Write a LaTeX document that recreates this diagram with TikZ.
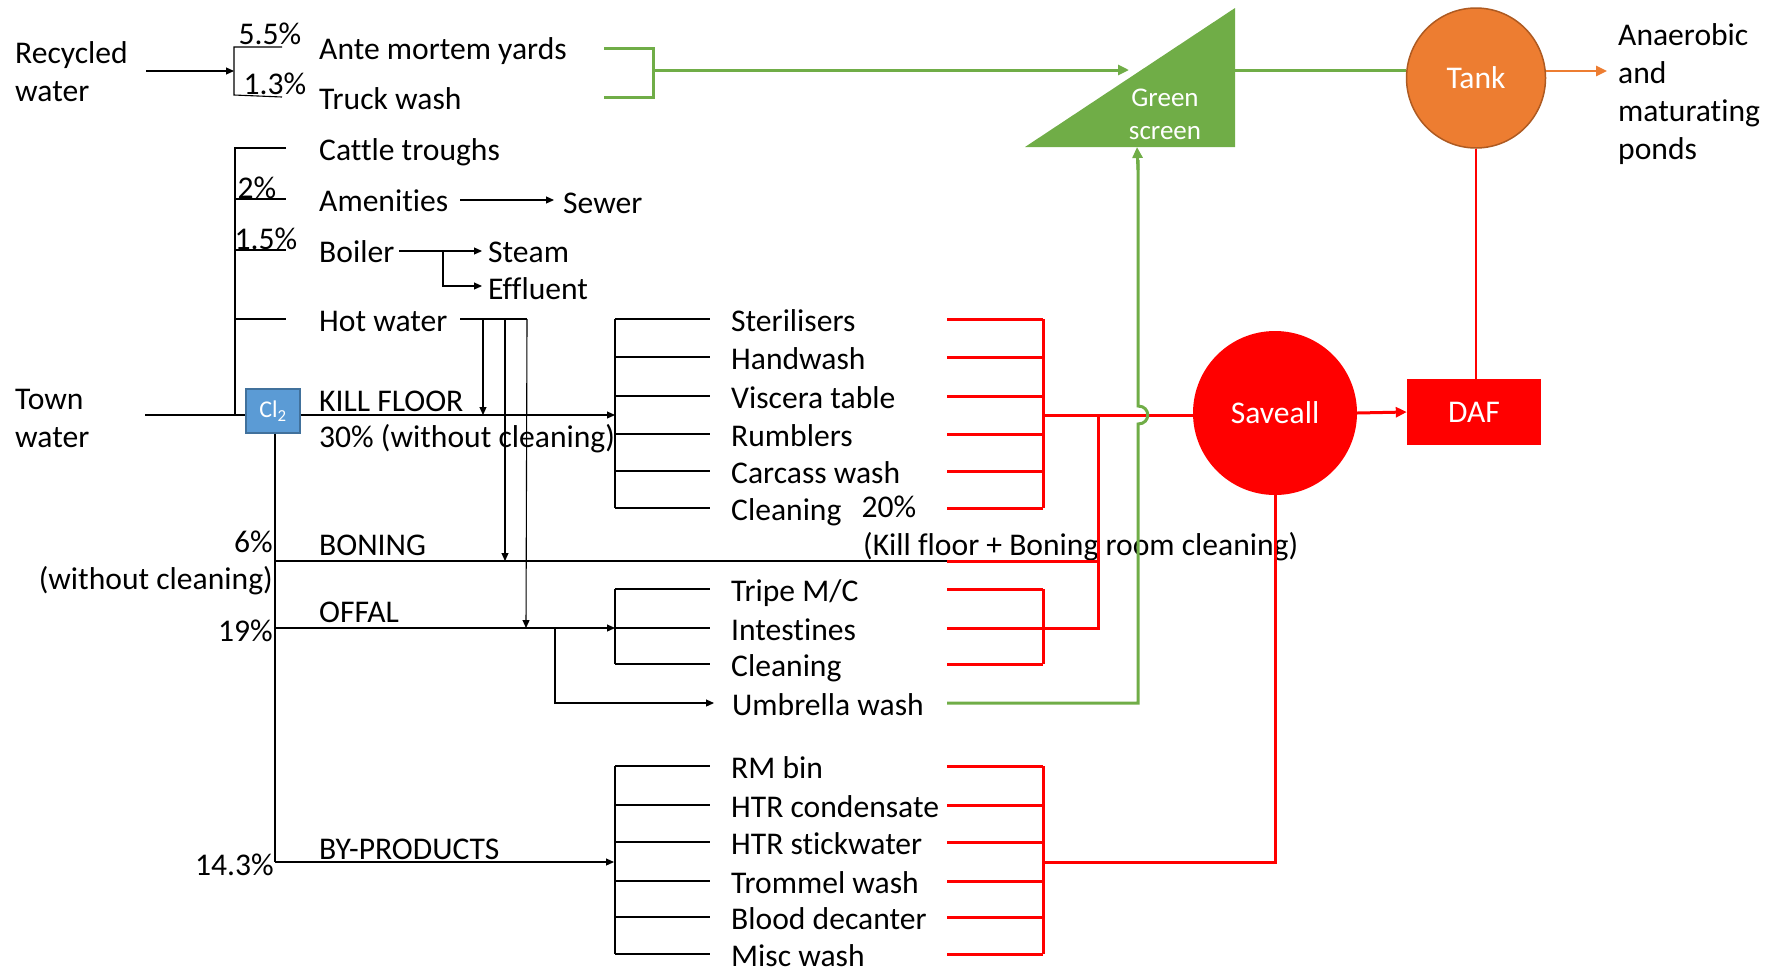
\documentclass[tikz,border=0pt]{standalone}
\usepackage{fontspec}
\setmainfont[Ligatures=NoCommon]{Carlito}
\usetikzlibrary{arrows.meta,shapes.geometric}
\definecolor{gr}{HTML}{70AD47}
\definecolor{grd}{HTML}{507E32}
\definecolor{org}{HTML}{ED7D31}
\definecolor{orgd}{HTML}{AE5A21}
\definecolor{bl}{HTML}{5B9BD5}
\definecolor{bld}{HTML}{41719C}
\definecolor{rd}{HTML}{FF0000}
\newcommand\myfs{\fontsize{31.6}{38}\selectfont}
\begin{document}
\begin{tikzpicture}[x=1pt,y=-1pt,
  lbl/.style={anchor=west,inner sep=0pt,font=\myfs,text height=27pt,text depth=3pt},
  lblr/.style={lbl,anchor=east},
  lblc/.style={lbl,anchor=center},
  multi/.style={anchor=west,inner sep=0pt,font=\myfs,align=left},
  blk/.style={draw=black,line width=1.1pt},
  tip/.style={-{Triangle[length=8pt,width=7pt]}},
  bigtip/.style={-{Triangle[length=11pt,width=10pt]}},
  redl/.style={draw=rd,line width=3pt},
  grl/.style={draw=gr,line width=3pt},
  wtxt/.style={text=white,font=\myfs,inner sep=0pt},
]
\useasboundingbox (0,0) rectangle (1771,970);

% ---------- texts ----------
\node[multi] (rec) at (15,72) {Recycled\\water};
\node[multi] (town) at (15,418) {Town\\water};
\node[lblc] (p55) at (270,32) {5.5\%};
\node[lblc] (p13) at (275,82) {1.3\%};
\node[lbl] (ante) at (319,47) {Ante mortem yards};
\node[lbl] (truck) at (319,97) {Truck wash};
\node[lbl] (cattle) at (319,148) {Cattle troughs};
\node[lbl] (amen) at (319,199) {Amenities};
\node[lbl] (boil) at (319,250) {Boiler};
\node[lbl] (hot) at (319,319) {Hot water};
\node[lblc] (p2) at (257,186) {2\%};
\node[lblc] (p15) at (266,237) {1.5\%};
\node[lbl] (sewer) at (563,201) {Sewer};
\node[lbl] (steam) at (488,250) {Steam};
\node[lbl] (eff) at (488,287) {Effluent};
\node[lbl] (kf) at (319,399) {KILL FLOOR};
\node[lbl] (kfp) at (319,435) {30\% (without cleaning)};
\node[lbl] (bon) at (319,543) {BONING};
\node[lblr] (p6) at (273,540) {6\%};
\node[lblr] (p6w) at (273,577) {(without cleaning)};
\node[lbl] (off) at (319,610) {OFFAL};
\node[lblr] (p19) at (273,629) {19\%};
\node[lbl] (byp) at (319,847) {BY-PRODUCTS};
\node[lblr] (p143) at (274,863) {14.3\%};
\node[lblc] (p20) at (889,505) {20\%};
\node[lbl] (kbc) at (863,543) {(Kill floor + Boning room cleaning)};
\node[multi] (ana) at (1618,94) {Anaerobic\\and\\maturating\\ponds};

\node[lbl] (ster) at (731,319) {Sterilisers};
\node[lbl] (hand) at (731,357) {Handwash};
\node[lbl] (visc) at (731,396) {Viscera table};
\node[lbl] (rumb) at (731,434) {Rumblers};
\node[lbl] (carc) at (731,471) {Carcass wash};
\node[lbl] (clkf) at (731,508) {Cleaning};
\node[lbl] (trip) at (731,589) {Tripe M/C};
\node[lbl] (inte) at (731,628) {Intestines};
\node[lbl] (clof) at (731,664) {Cleaning};
\node[lbl] (umb) at (732,703) {Umbrella wash};
\node[lbl] (rmb) at (731,766) {RM bin};
\node[lbl] (htrc) at (731,805) {HTR condensate};
\node[lbl] (htrs) at (731,842) {HTR stickwater};
\node[lbl] (trom) at (731,881) {Trommel wash};
\node[lbl] (blood) at (731,917) {Blood decanter};
\node[lbl] (misc) at (731,954) {Misc wash};

% ---------- shapes ----------
\fill[gr] (1025,147) -- (1235,8) -- (1235,147) -- cycle;
\coordinate (gsb) at (1137,147);
\coordinate (gsin) at (1129,70);
\coordinate (gsout) at (1235,70);
\node[anchor=center,text=white,inner sep=0pt,font=\fontsize{27}{33}\selectfont,align=center] (gs) at (1165,114) {Green\\screen};
\node[ellipse,fill=org,draw=orgd,line width=1.5pt,minimum width=139pt,minimum height=140pt,wtxt] (tank) at (1476,78) {Tank};
\node[circle,fill=rd,minimum size=164pt,wtxt] (sav) at (1275,413) {Saveall};
\node[rectangle,fill=rd,minimum width=134pt,minimum height=66pt,wtxt] (daf) at (1474,412) {DAF};
\node[rectangle,fill=bl,draw=bld,line width=1.2pt,minimum width=54pt,minimum height=44pt,text=white,inner sep=0pt,font=\fontsize{24}{28}\selectfont] (cl) at (273,411) {Cl\textsubscript{2}};

% ---------- coordinates ----------
\coordinate (kfx) at (615,0);
\coordinate (rx) at (947,0);
\coordinate (rbx) at (1043,0);
\coordinate (rec0) at (146,71);
\coordinate (rec1) at (234,71);
\coordinate (rbt) at (234,47);
\coordinate (rbb) at (234,95);
\coordinate (gbt) at (604,48);
\coordinate (gbb) at (604,97);
\coordinate (gbm) at (653,70);
\coordinate (tw0) at (145,415);
\coordinate (tbx) at (235,0);
\coordinate (am0) at (460,200);
\coordinate (am1) at (554,200);
\coordinate (bo0) at (399,251);
\coordinate (bo1) at (482,251);
\coordinate (boj) at (443,251);
\coordinate (bo2) at (482,286);
\coordinate (hw0) at (460,319);
\coordinate (hw1) at (527,319);
\coordinate (kfe) at (615,415);
\coordinate (clx) at (275,0);
\coordinate (bonl) at (947,561);
\coordinate (bonr) at (1098,561);
\coordinate (offe) at (615,628);
\coordinate (offj) at (555,628);
\coordinate (umbe) at (714,703);
\coordinate (bpe) at (614,862);
\coordinate (redj) at (1043,415);
\coordinate (ofr) at (1098,628);
\coordinate (bpj) at (1043,862);
\coordinate (gu0) at (947,703);
\coordinate (gu1) at (1138,703);
\coordinate (tko) at (1546,71);
\coordinate (tke) at (1607,71);

% ---------- recycled water ----------
\draw[blk,tip] (rec0) -- (rec1);
\draw[blk] ([xshift=-37pt]ante.west) -| (rbt) -- (rbb) -- ([xshift=-37pt]truck.west);
\draw[grl] (gbt) -| (gbm |- gbb) -- (gbb);
\draw[grl] (gbt -| gbm) -- (gbm);
\draw[grl,bigtip] (gbm) -- (gsin);
\draw[grl] (gsout) -- (gsout -| tank.west);
\draw[org,line width=2.5pt,bigtip] (tko) -- (tke);
\draw[rd,line width=2pt] (tank.south) -- (tank.south |- daf.north);

% ---------- town water ----------
\draw[blk] (tw0) -- (cl.west |- tw0);
\draw[blk] ([xshift=-33pt]cattle.west) -| (tbx |- tw0);
\foreach \n in {amen,boil,hot}{\draw[blk] (\n.west -| tbx) -- ([xshift=-33pt]\n.west);}
\draw[blk,tip] (am0) -- (am1);
\draw[blk,tip] (bo0) -- (bo1);
\draw[blk,tip] (boj) |- (bo2);
\draw[blk] (hw0) -- (hw1);
\draw[blk,tip] (483,319) -- (483,415);
\draw[blk,tip] (505,319) -- (505,561);
\draw[blk,tip] (hw1) -- (526,628);
\draw[blk,tip] (cl.east |- kfe) -- (kfe);
\draw[blk] (cl.south -| clx) -- (clx |- bpe);
\draw[blk] (clx |- bonl) -- (bonl);
\draw[redl] (bonl) -- (bonr);
\draw[blk,tip] (clx |- offe) -- (offe);
\draw[blk,tip] (offj) |- (umbe);
\draw[blk,tip] (clx |- bpe) -- (bpe);

% ---------- brackets ----------
\foreach \n in {ster,hand,visc,rumb,carc,clkf,trip,inte,clof,rmb,htrc,htrs,trom,blood,misc}{
  \draw[blk] (\n.west -| kfx) -- ([xshift=-21pt]\n.west);
  \draw[redl] (\n.west -| rx) -- (\n.west -| rbx);
}
\draw[blk] (ster.west -| kfx) -- (clkf.west -| kfx);
\draw[blk] (trip.west -| kfx) -- (clof.west -| kfx);
\draw[blk] (rmb.west -| kfx) -- (misc.west -| kfx);
\draw[redl] (ster.west -| rbx) -- (clkf.west -| rbx);
\draw[redl] (trip.west -| rbx) -- (clof.west -| rbx);
\draw[redl] (rmb.west -| rbx) -- (misc.west -| rbx);

% ---------- red collection ----------
\draw[redl] (redj) -- (redj -| sav.west);
\draw[redl] (inte.west -| rbx) -- (ofr) -- (ofr |- redj);
\draw[redl] (bpj) -| (sav.south);
\draw[redl,bigtip] (sav.east) -- (daf.west);

% ---------- green umbrella ----------
\draw[grl] (gu0) -- (gu1) -- (1138,424) .. controls (1151,424) and (1151,406) .. (1138,406) -- (1138,160);
\draw[grl,bigtip] (1138,170) -- (gsb);
\end{tikzpicture}
\end{document}
